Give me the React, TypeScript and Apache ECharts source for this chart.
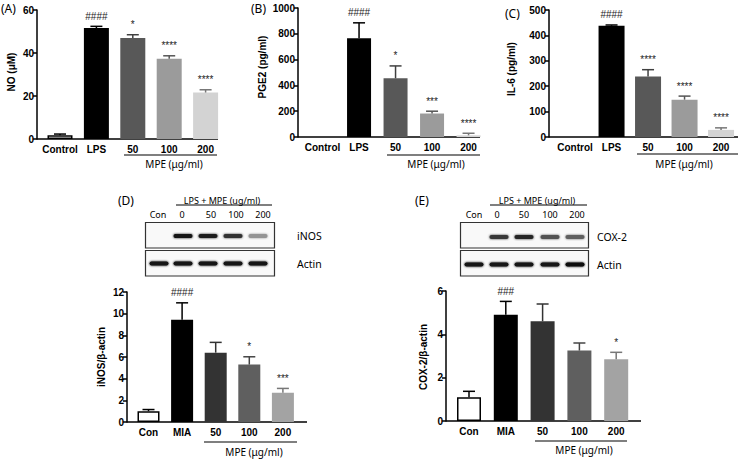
import React, { useEffect, useRef } from "react";
import * as echarts from "echarts";

// ---------- data ----------
const catsTop = ["Control", "LPS", "50", "100", "200"];
const catsBottom = ["Con", "MIA", "50", "100", "200"];

const noValues = [1.7, 51.6, 47.0, 37.3, 21.6];
const noErrors = [0.6, 0.8, 1.5, 1.4, 1.3];
const noMarks = ["", "####", "*", "****", "****"];

const pge2Values = [0, 765, 455, 182, 13];
const pge2Errors = [0, 120, 96, 18, 16];
const pge2Marks = ["", "####", "*", "***", "****"];

const il6Values = [0, 438, 238, 147, 28];
const il6Errors = [0, 3, 27, 14, 8];
const il6Marks = ["", "####", "****", "****", "****"];

const inosValues = [1.0, 9.45, 6.4, 5.3, 2.7];
const inosErrors = [0.15, 1.55, 0.95, 0.72, 0.4];
const inosMarks = ["", "####", "", "*", "***"];

const coxValues = [1.1, 4.9, 4.6, 3.25, 2.85];
const coxErrors = [0.27, 0.62, 0.8, 0.35, 0.32];
const coxMarks = ["", "###", "", "", "*"];

const blotLanes = ["Con", "0", "50", "100", "200"];
const inosBand = [0, 0.93, 0.88, 0.8, 0.42];
const actinBandD = [0.93, 0.93, 0.93, 0.93, 0.93];
const cox2Band = [0, 0.78, 0.85, 0.68, 0.62];
const actinBandE = [0.93, 0.93, 0.93, 0.93, 0.95];

// ---------- styles ----------
const topColors = ["#ffffff", "#000000", "#585858", "#9b9b9b", "#d3d3d3"];
const topErrColors = ["#000000", "#000000", "#404040", "#555555", "#777777"];
const bottomColors = ["#ffffff", "#000000", "#333333", "#5f5f5f", "#a3a3a3"];
const bottomErrColors = ["#000000", "#000000", "#333333", "#444444", "#777777"];

const BOLD = "Liberation Sans";
const SANS = "Noto Sans";

type Panel = {
  left: number; top: number; width: number; height: number; yOff: number;
  max: number; interval: number; cats: string[]; values: number[]; errors: number[];
  marks: string[]; colors: string[]; errColors: string[]; barWidth: number;
};

const panels: Panel[] = [
  { left: 41.8, top: 10, width: 182, height: 129, yOff: 4.8, max: 60, interval: 20, cats: catsTop, values: noValues, errors: noErrors, marks: noMarks, colors: topColors, errColors: topErrColors, barWidth: 25 },
  { left: 304.3, top: 8, width: 182.5, height: 129, yOff: 6.3, max: 1000, interval: 200, cats: catsTop, values: pge2Values, errors: pge2Errors, marks: pge2Marks, colors: topColors, errColors: topErrColors, barWidth: 24 },
  { left: 556.8, top: 10, width: 182.5, height: 127, yOff: 7.8, max: 500, interval: 100, cats: catsTop, values: il6Values, errors: il6Errors, marks: il6Marks, colors: topColors, errColors: topErrColors, barWidth: 26 },
  { left: 131.7, top: 292, width: 168, height: 130, yOff: 4.7, max: 12, interval: 2, cats: catsBottom, values: inosValues, errors: inosErrors, marks: inosMarks, colors: bottomColors, errColors: bottomErrColors, barWidth: 22 },
  { left: 450.6, top: 291, width: 184, height: 130, yOff: 4.6, max: 6, interval: 2, cats: catsBottom, values: coxValues, errors: coxErrors, marks: coxMarks, colors: bottomColors, errColors: bottomErrColors, barWidth: 24 },
];

const yTitles = [
  { text: "NO (μM)", x: 11.5, y: 72 },
  { text: "PGE2 (pg/ml)", x: 262.5, y: 67 },
  { text: "IL-6 (pg/ml)", x: 511, y: 69 },
  { text: "iNOS/β-actin", x: 101, y: 357 },
  { text: "COX-2/β-actin", x: 423, y: 357 },
];
const xLines = [
  { x1: 37, x2: 218, y: 139 },
  { x1: 298, x2: 480, y: 137 },
  { x1: 549, x2: 738, y: 137 },
  { x1: 127, x2: 307, y: 422 },
  { x1: 446, x2: 641, y: 421 },
];
const mpeLines = [
  { x1: 124, x2: 217, y: 155, tx: 174, ty: 164 },
  { x1: 387, x2: 480, y: 155, tx: 436, ty: 164 },
  { x1: 637, x2: 738, y: 154, tx: 684, ty: 164 },
  { x1: 204, x2: 297, y: 442, tx: 254, ty: 452 },
  { x1: 535, x2: 627, y: 441, tx: 584, ty: 450 },
];
const panelLabels = [
  { t: "(A)", x: 1, y: 8 },
  { t: "(B)", x: 251, y: 8 },
  { t: "(C)", x: 505, y: 13 },
  { t: "(D)", x: 118, y: 200 },
  { t: "(E)", x: 415, y: 200 },
];

type Blot = {
  boxX: number; boxW: number; lanes: number[]; labelX: number[];
  header: number; lineX1: number; lineX2: number; target: string;
  targetBand: number[]; actinBand: number[]; nameX: number; targetY: number; actinY: number;
};
const blots: Blot[] = [
  { boxX: 145.5, boxW: 129, lanes: [159, 183, 208, 233, 258], labelX: [158, 182, 211, 236, 263], header: 222, lineX1: 176, lineX2: 272, target: "iNOS", targetBand: inosBand, actinBand: actinBandD, nameX: 297, targetY: 236, actinY: 263.5 },
  { boxX: 460.5, boxW: 128, lanes: [474, 499, 524, 550, 575], labelX: [474, 497, 524, 550, 577], header: 537, lineX1: 490, lineX2: 587, target: "COX-2", targetBand: cox2Band, actinBand: actinBandE, nameX: 597, targetY: 237, actinY: 264.5 },
];

function gray(v: number) {
  const g = Math.round(255 * (1 - v));
  return `rgb(${g},${g},${g})`;
}

function buildOption() {
  const grid: any[] = [];
  const xAxis: any[] = [];
  const yAxis: any[] = [];
  const series: any[] = [];
  panels.forEach((p, k) => {
    grid.push({ left: p.left, top: p.top, width: p.width, height: p.height });
    xAxis.push({
      type: "category", gridIndex: k, data: p.cats,
      axisLine: { show: false }, axisTick: { show: false },
      axisLabel: { color: "#000", fontWeight: "bold", fontSize: 10, fontFamily: BOLD, margin: 5, interval: 0 },
    });
    yAxis.push({
      type: "value", gridIndex: k, min: 0, max: p.max, interval: p.interval, offset: p.yOff,
      axisLine: { show: true, lineStyle: { color: "#000", width: 1.5 } },
      axisTick: { show: true, length: 4, lineStyle: { color: "#000", width: 1.5 } },
      axisLabel: { color: "#000", fontWeight: "bold", fontSize: 10, fontFamily: BOLD, margin: 3, formatter: (v: number) => String(v) },
      splitLine: { show: false },
    });
    series.push({
      type: "bar", xAxisIndex: k, yAxisIndex: k, barWidth: p.barWidth,
      data: p.values.map((v, i) =>
        i === 0
          ? { value: v, itemStyle: { color: "#ffffff", borderColor: "#000", borderWidth: v > 0 ? 1.5 : 0 } }
          : { value: v, itemStyle: { color: p.colors[i] } }
      ),
      z: 2,
    });
    series.push({
      type: "custom", xAxisIndex: k, yAxisIndex: k, z: 3,
      encode: { x: 0, y: 1 },
      data: p.values.map((v, i) => [i, v, p.errors[i]]),
      renderItem: (params: any, api: any) => {
        const i = api.value(0);
        const v = api.value(1);
        const e = api.value(2);
        const p0 = api.coord([i, v]);
        const p1 = api.coord([i, v + e]);
        const c = p.errColors[i];
        const children: any[] = [];
        if (e > 0) {
          children.push({ type: "line", shape: { x1: p0[0], y1: p0[1], x2: p1[0], y2: p1[1] }, style: { stroke: c, lineWidth: 1.5 } });
          children.push({ type: "line", shape: { x1: p1[0] - 6, y1: p1[1], x2: p1[0] + 6, y2: p1[1] }, style: { stroke: c, lineWidth: 1.5 } });
        }
        const m = p.marks[params.dataIndex];
        if (m) {
          children.push({
            type: "text", x: p1[0], y: p1[1] - 5,
            style: { text: m, fill: "#222", fontSize: 10, fontFamily: BOLD, align: "center", verticalAlign: "bottom" },
          });
        }
        return { type: "group", children };
      },
    });
  });

  const graphic: any[] = [];
  xLines.forEach((l) =>
    graphic.push({ type: "line", shape: { x1: l.x1, y1: l.y, x2: l.x2, y2: l.y }, style: { stroke: "#000", lineWidth: 1.5 } })
  );
  mpeLines.forEach((l) => {
    graphic.push({ type: "line", shape: { x1: l.x1, y1: l.y, x2: l.x2, y2: l.y }, style: { stroke: "#000", lineWidth: 1.2 } });
    graphic.push({ type: "text", x: l.tx, y: l.ty, style: { text: "MPE (μg/ml)", fill: "#000", fontSize: 10, fontFamily: SANS, align: "center", verticalAlign: "middle" } });
  });
  yTitles.forEach((t) =>
    graphic.push({ type: "text", x: t.x, y: t.y, rotation: Math.PI / 2, style: { text: t.text, fill: "#000", fontSize: 10, fontWeight: "bold", fontFamily: BOLD, align: "center", verticalAlign: "middle" } })
  );
  panelLabels.forEach((t) =>
    graphic.push({ type: "text", x: t.x, y: t.y, style: { text: t.t, fill: "#000", fontSize: 12, fontFamily: SANS, align: "left", verticalAlign: "middle" } })
  );
  blots.forEach((b) => {
    graphic.push({ type: "text", x: b.header, y: 200, style: { text: "LPS + MPE (ug/ml)", fill: "#000", fontSize: 9, fontFamily: SANS, align: "center", verticalAlign: "middle" } });
    graphic.push({ type: "line", shape: { x1: b.lineX1, y1: 205, x2: b.lineX2, y2: 205 }, style: { stroke: "#000", lineWidth: 1 } });
    blotLanes.forEach((lab, i) =>
      graphic.push({ type: "text", x: b.labelX[i], y: 214, style: { text: lab, fill: "#000", fontSize: 9, fontFamily: SANS, align: "center", verticalAlign: "middle" } })
    );
    graphic.push({ type: "rect", shape: { x: b.boxX, y: 222.5, width: b.boxW, height: 25.5 }, style: { fill: "#f9f9f9", stroke: "#333", lineWidth: 1.2 } });
    graphic.push({ type: "rect", shape: { x: b.boxX, y: 250.5, width: b.boxW, height: 25.5 }, style: { fill: "#f9f9f9", stroke: "#333", lineWidth: 1.2 } });
    b.lanes.forEach((x, i) => {
      if (b.targetBand[i] > 0) {
        const c = gray(b.targetBand[i]);
        graphic.push({ type: "rect", shape: { x: x - 9.5, y: b.targetY - 2, width: 19, height: 4, r: 2 }, style: { fill: c, shadowBlur: 2, shadowColor: c } });
      }
      const a = gray(b.actinBand[i]);
      graphic.push({ type: "rect", shape: { x: x - 9.5, y: b.actinY - 2, width: 19, height: 4, r: 2 }, style: { fill: a, shadowBlur: 2, shadowColor: a } });
    });
    graphic.push({ type: "text", x: b.nameX, y: b.targetY, style: { text: b.target, fill: "#000", fontSize: 10.5, fontFamily: SANS, align: "left", verticalAlign: "middle" } });
    graphic.push({ type: "text", x: b.nameX, y: b.actinY, style: { text: "Actin", fill: "#000", fontSize: 10.5, fontFamily: SANS, align: "left", verticalAlign: "middle" } });
  });

  return { animation: false, backgroundColor: "#ffffff", grid, xAxis, yAxis, series, graphic };
}

export default function App() {
  const ref = useRef<HTMLDivElement>(null);
  useEffect(() => {
    const chart = echarts.init(ref.current!, null, { renderer: "svg" });
    chart.setOption(buildOption() as any);
    return () => chart.dispose();
  }, []);
  return <div ref={ref} style={{ position: "fixed", left: 0, top: 0, width: 749, height: 459 }} />;
}
